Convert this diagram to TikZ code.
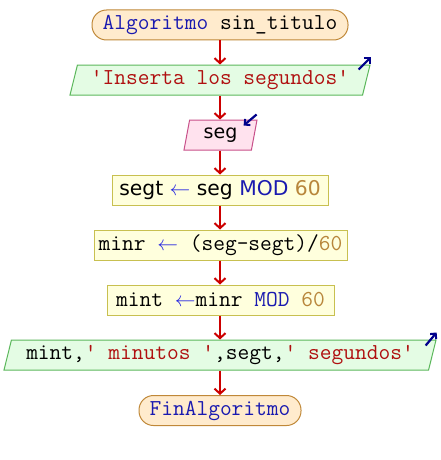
\documentclass[tikz,border=0pt]{standalone}
\usepackage{fontspec}
\usetikzlibrary{arrows.meta,shapes.geometric}
\newfontfamily\flowsans{DejaVu Sans}
\definecolor{termfill}{HTML}{FFEBCD}
\definecolor{termline}{HTML}{C08838}
\definecolor{outfill}{HTML}{E4FCE4}
\definecolor{outline}{HTML}{5CB85C}
\definecolor{infill}{HTML}{FFE2EE}
\definecolor{inline}{HTML}{C8508A}
\definecolor{procfill}{HTML}{FFFFDD}
\definecolor{procline}{HTML}{C8C050}
\definecolor{flowred}{HTML}{CC0000}
\definecolor{kwblue}{HTML}{1A1AB0}
\definecolor{strred}{HTML}{B01010}
\definecolor{numbrown}{HTML}{B8863B}
\definecolor{asgblue}{HTML}{2828E0}
\definecolor{ionavy}{HTML}{00008B}
\newcommand{\kw}[1]{\textcolor{kwblue}{#1}}
\newcommand{\str}[1]{\textcolor{strred}{#1}}
\newcommand{\num}[1]{\textcolor{numbrown}{#1}}
\newcommand{\asg}{\textcolor{asgblue}{$\leftarrow$}}
\tikzset{
  monotext/.style={font=\fontsize{22.8}{24}\ttfamily},
  sanstext/.style={font=\fontsize{20.3}{22}\flowsans},
  termbox/.style={draw=termline, fill=termfill, line width=1pt,
    rounded corners=14.5pt, minimum height=30pt, inner xsep=6pt, inner ysep=0pt, monotext},
  procbox/.style={draw=procline, fill=procfill, line width=1pt,
    minimum height=30pt, inner xsep=4pt, inner ysep=0pt},
  iobox/.style={trapezium, trapezium left angle=69, trapezium right angle=111,
    trapezium stretches body, line width=1pt, minimum height=30pt,
    inner xsep=2pt, inner ysep=0pt},
  outbox/.style={iobox, draw=outline, fill=outfill},
  inbox/.style={iobox, draw=inline, fill=infill},
  flow/.style={draw=flowred, line width=2pt, -{Straight Barb[length=5pt,width=11pt,line width=2pt]}},
  iomark/.style={draw=ionavy, line width=2.2pt, -{Straight Barb[length=4pt,width=8pt,line width=2pt]}}
}
\begin{document}
\begin{tikzpicture}[x=1pt,y=-1pt]
  \useasboundingbox[fill=white] (0,0) rectangle (440,460);

  \node[termbox, minimum width=256pt] (start) at (220,25) {\kw{Algoritmo} sin\_titulo};
  \node[outbox, monotext, minimum width=300pt] (ask) at (220,80) {\str{'Inserta los segundos'}};
  \node[inbox, font=\fontsize{19}{22}\flowsans, minimum width=73pt] (read) at (220.5,135) {seg};
  \node[procbox, sanstext, minimum width=216pt] (p1) at (220,190) {segt \asg{} seg \kw{MOD} \num{60}};
  \node[procbox, monotext, minimum width=253pt] (p2) at (220.5,245) {minr \asg{} (seg-segt)/\num{60}};
  \node[procbox, monotext, minimum width=227pt] (p3) at (220.5,300) {mint \asg{}minr \kw{MOD} \num{60}};
  \node[outbox, monotext, minimum width=432pt] (show) at (220,355) {mint,\str{' minutos '},segt,\str{' segundos'}};
  \node[termbox, minimum width=162pt] (stop) at (220,410.5) {\kw{FinAlgoritmo}};

  % flow connectors, kept vertical on the start node's axis
  \foreach \a/\b in {start/ask, ask/read, read/p1, p1/p2, p2/p3, p3/show, show/stop}
    \draw[flow] (start.center |- \a.south) -- (start.center |- \b.north);

  % input / output markers
  \draw[iomark] ([shift={(-12,5)}]ask.top right corner) -- ([shift={(0,-7)}]ask.top right corner);
  \draw[iomark] ([shift={(-1,-5)}]read.top right corner) -- ([shift={(-14,6)}]read.top right corner);
  \draw[iomark] ([shift={(-11,6)}]show.top right corner) -- ([shift={(0,-7)}]show.top right corner);
\end{tikzpicture}
\end{document}
